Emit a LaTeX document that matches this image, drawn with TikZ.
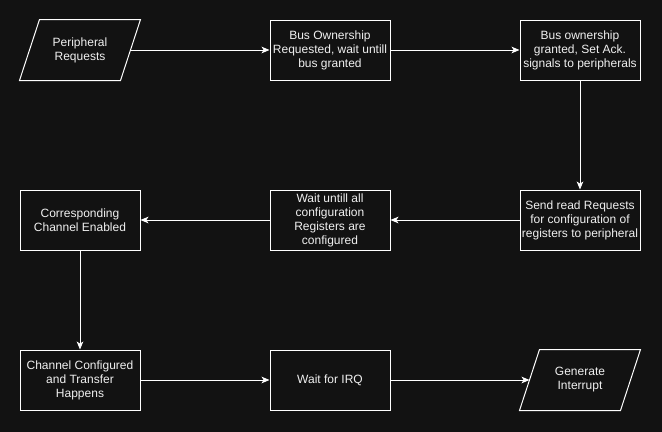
\documentclass[tikz,border=0pt]{standalone}
\usepackage{fontspec}
\setmainfont{Liberation Sans}
\usepackage{xcolor}
\usetikzlibrary{arrows.meta}
\definecolor{bg}{HTML}{121212}
\definecolor{ink}{HTML}{F0F0F0}

\begin{document}
\begin{tikzpicture}[x=0.75pt,y=-0.75pt]
	\tikzset{>={Stealth[length=6pt,width=5pt,inset=1.6pt]}}
	\tikzset{
		stepbox/.style={draw=white,fill=bg,line width=0.75pt,minimum width=90pt,minimum height=45pt,
			inner sep=1pt,align=center,text=ink,font=\fontsize{9}{10.5}\selectfont},
		iobox/.style={stepbox,draw=none},
		slant/.style={draw=white,line width=0.75pt,line join=miter},
		flow/.style={->,draw=white,line width=0.75pt}
	}
	\fill[bg] (0,0) rectangle (662,432);
	\useasboundingbox (0,0) rectangle (662,432);
	
	\node[iobox] (req) at (80,50) {Peripheral\\Requests};
	\node[stepbox] (own) at (330,50) {Bus Ownership\\Requested, wait untill\\bus granted};
	\node[stepbox] (grant) at (580,50) {Bus ownership\\granted, Set Ack.\\signals to peripherals};
	
	\node[stepbox] (send) at (580,220) {Send read Requests\\for configuration of\\registers to peripheral};
	\node[stepbox] (waitcfg) at (330,220) {Wait untill all\\configuration\\Registers are\\configured};
	\node[stepbox] (chan) at (80,220) {Corresponding\\Channel Enabled};
	
	\node[stepbox] (xfer) at (80,380) {Channel Configured\\and Transfer\\Happens};
	\node[stepbox] (irq) at (330,380) {Wait for IRQ};
	\node[iobox] (intr) at (580,380) {Generate\\Interrupt};
	
	% parallelogram outlines
	\foreach \io in {req,intr}
		\draw[slant] (\io.south west) -- ([xshift=15pt]\io.north west) -- (\io.north east)
			-- ([xshift=-15pt]\io.south east) -- cycle;
	
	\draw[flow] ([xshift=-7.5pt]req.east) -- (own);
	\draw[flow] (own) -- (grant);
	\draw[flow] (grant) -- (send);
	\draw[flow] (send) -- (waitcfg);
	\draw[flow] (waitcfg) -- (chan);
	\draw[flow] (chan) -- (xfer);
	\draw[flow] (xfer) -- (irq);
	\draw[flow] (irq) -- ([xshift=7.5pt]intr.west);
\end{tikzpicture}
\end{document}
